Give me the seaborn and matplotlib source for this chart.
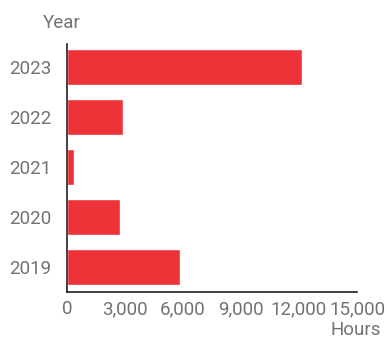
import pandas as pd
import numpy as np
import matplotlib
matplotlib.use("Agg")
import matplotlib.pyplot as plt
import seaborn as sns
from matplotlib.ticker import FuncFormatter

# Data
years = ["2023", "2022", "2021", "2020", "2019"]
hours = [12150, 2900, 360, 2740, 5850]
x_ticks = [0, 3000, 6000, 9000, 12000, 15000]

df = pd.DataFrame({"Year": years, "Hours": hours})

sns.set_theme(style="white")
plt.rcParams["font.family"] = ["Roboto", "DejaVu Sans"]

text_color = "#727272"
bar_color = "#ee3338"

fig = plt.figure(figsize=(3.87, 3.40), dpi=100)
ax = fig.add_axes([67 / 387, 1 - 292 / 340, 290 / 387, 248 / 340])

sns.barplot(data=df, x="Hours", y="Year", order=years, color=bar_color,
            saturation=1, width=0.72, ax=ax)

ax.set_xlim(0, 15000)
ax.set_ylim(4.5, -0.46)
ax.set_xticks(x_ticks)
ax.xaxis.set_major_formatter(FuncFormatter(lambda v, p: f"{int(v):,}"))
ax.tick_params(axis="both", length=0, labelsize=13.5, labelcolor=text_color)
ax.tick_params(axis="x", pad=6)
ax.tick_params(axis="y", pad=11)

for s in ["top", "right"]:
    ax.spines[s].set_visible(False)
for s in ["left", "bottom"]:
    ax.spines[s].set_color("#222222")
    ax.spines[s].set_linewidth(1.2)

ax.set_xlabel("")
ax.set_ylabel("")
fig.text(62 / 387, 1 - 23 / 340, "Year", ha="center", va="center",
         fontsize=13.5, color=text_color)
fig.text(381 / 387, 1 - 330 / 340, "Hours", ha="right", va="center",
         fontsize=13.5, color=text_color)

fig.savefig("out.png", dpi=100)
